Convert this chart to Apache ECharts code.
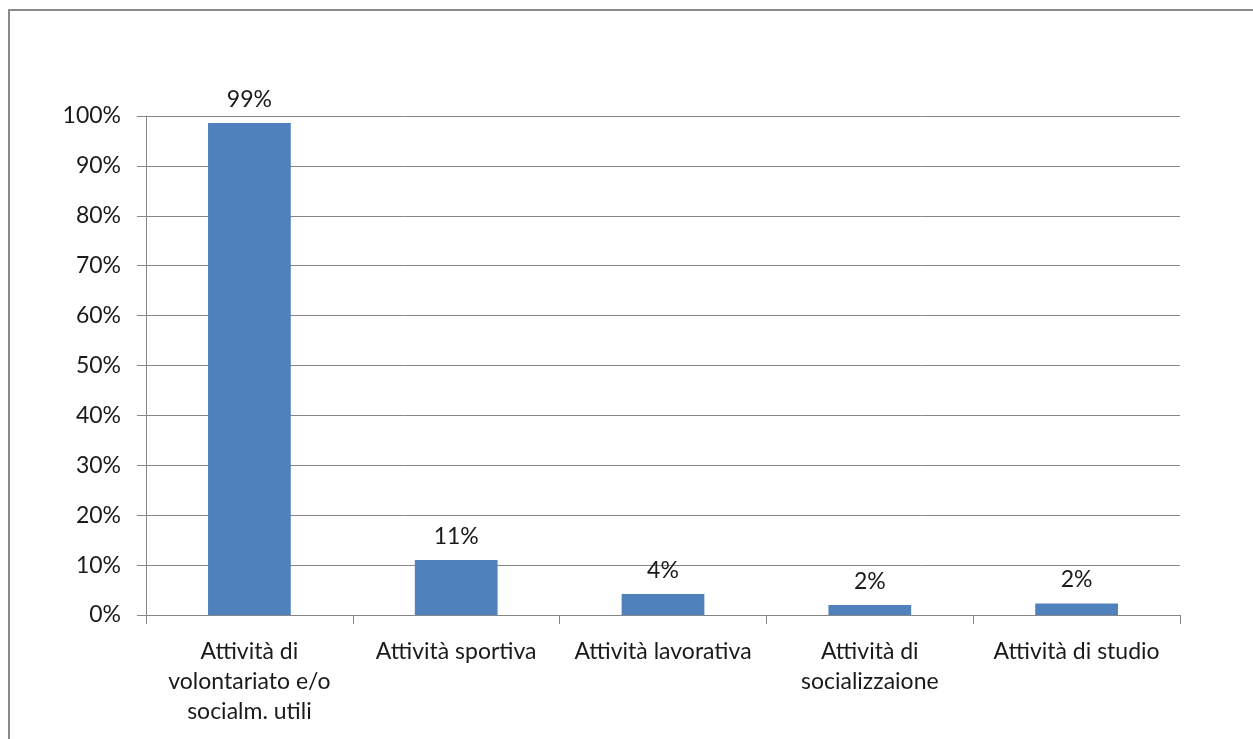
<!DOCTYPE html>
<html>
<head>
<meta charset="utf-8">
<script src="https://cdn.jsdelivr.net/npm/echarts@6/dist/echarts.min.js"></script>
<style>
html,body{margin:0;padding:0;background:#fff;}
#chart{width:1253px;height:739px;}
</style>
</head>
<body>
<div id="chart"></div>
<script>
const categories = [
  "Attività di\nvolontariato e/o\nsocialm. utili",
  "Attività sportiva",
  "Attività lavorativa",
  "Attività di\nsocializzaione",
  "Attività di studio"
];
const values = [98.6, 11, 4.2, 2, 2.3];
const yTicks = { min: 0, max: 100, interval: 10 };

const chart = echarts.init(document.getElementById('chart'));
const font = 'Lato, "Open Sans", sans-serif';
chart.setOption({
  animation: false,
  backgroundColor: '#ffffff',
  graphic: [{
    type: 'rect',
    shape: { x: 9, y: 10, width: 1400, height: 900 },
    style: { fill: 'none', stroke: '#8a8a8a', lineWidth: 2 },
    silent: true
  }],
  grid: { left: 146, right: 73, top: 116, bottom: 124, containLabel: false },
  xAxis: {
    type: 'category',
    data: categories,
    axisLine: { show: true, lineStyle: { color: '#868686', width: 1 } },
    axisTick: { show: true, length: 9, lineStyle: { color: '#868686' } },
    axisLabel: {
      color: '#1a1a1a', fontFamily: font, fontSize: 23, margin: 22,
      lineHeight: 30, interval: 0
    }
  },
  yAxis: {
    type: 'value',
    min: yTicks.min, max: yTicks.max, interval: yTicks.interval,
    axisLine: { show: true, lineStyle: { color: '#868686', width: 1 } },
    axisTick: { show: true, length: 9, lineStyle: { color: '#868686' } },
    splitLine: { show: true, lineStyle: { color: '#868686', width: 1 } },
    axisLabel: {
      color: '#1a1a1a', fontFamily: font, fontSize: 23, margin: 25,
      formatter: v => v + '%'
    }
  },
  series: [{
    type: 'bar',
    data: values,
    barWidth: '40%',
    itemStyle: { color: '#4f81bd' },
    label: {
      show: true, position: 'top', distance: 12,
      color: '#1a1a1a', fontFamily: font, fontSize: 23,
      formatter: p => Math.round(p.value) + '%'
    }
  }]
});
</script>
</body>
</html>
